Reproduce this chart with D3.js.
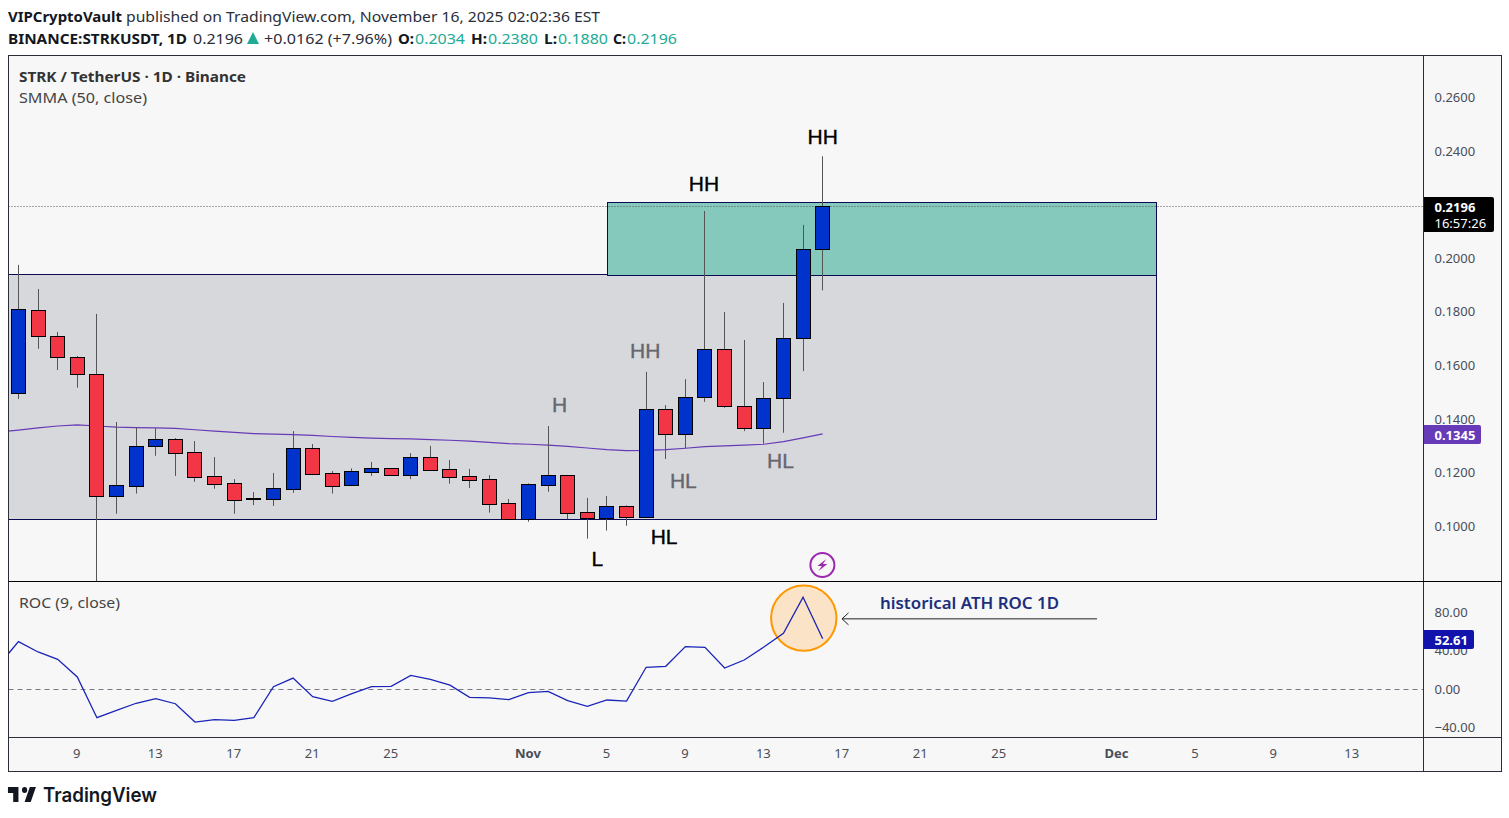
<!DOCTYPE html>
<html><head><meta charset="utf-8">
<script src="https://cdn.jsdelivr.net/npm/d3@7"></script>
<style>html,body{margin:0;padding:0;background:#fff;overflow:hidden}svg{display:block}text{font-family:"Noto Sans",sans-serif}</style>
</head><body><svg id="c" width="1509" height="818"></svg>
<script>
// First entry (Oct 5) sits left of the pane: only the indicator lines reach it.
const dates = ["2025-10-05","2025-10-06","2025-10-07","2025-10-08","2025-10-09","2025-10-10","2025-10-11","2025-10-12","2025-10-13","2025-10-14","2025-10-15","2025-10-16","2025-10-17","2025-10-18","2025-10-19","2025-10-20","2025-10-21","2025-10-22","2025-10-23","2025-10-24","2025-10-25","2025-10-26","2025-10-27","2025-10-28","2025-10-29","2025-10-30","2025-10-31","2025-11-01","2025-11-02","2025-11-03","2025-11-04","2025-11-05","2025-11-06","2025-11-07","2025-11-08","2025-11-09","2025-11-10","2025-11-11","2025-11-12","2025-11-13","2025-11-14","2025-11-15","2025-11-16"];
const opens  = [null,.1498,.1806,.1709,.1630,.1567,.1114,.1151,.1298,.1325,.1276,.1186,.1160,.1103,.1103,.1140,.1291,.1198,.1155,.1204,.1216,.1192,.1257,.1213,.1187,.1175,.1086,.1028,.1155,.1190,.1052,.1032,.1075,.1036,.1436,.1345,.1481,.1660,.1448,.1368,.1477,.1701,.2034];
const highs  = [null,.1975,.1885,.1725,.1635,.1792,.1389,.1370,.1366,.1329,.1318,.1258,.1176,.1128,.1199,.1355,.1307,.1206,.1216,.1240,.1216,.1273,.1300,.1247,.1214,.1191,.1102,.1160,.1374,.1190,.1106,.1113,.1078,.1576,.1452,.1549,.2176,.1799,.1695,.1538,.1833,.2124,.2380];
const lows   = [null,.1475,.1662,.1583,.1517,.0720,.1047,.1122,.1263,.1188,.1166,.1140,.1047,.1079,.1076,.1125,.1191,.1122,.1155,.1188,.1188,.1176,.1211,.1159,.1143,.1051,.1025,.1017,.1129,.1026,.0954,.0984,.1002,.1036,.1251,.1291,.1464,.1442,.1355,.1308,.1349,.1579,.1880];
const closes = [null,.1809,.1709,.1630,.1567,.1112,.1153,.1298,.1325,.1275,.1185,.1159,.1099,.1104,.1142,.1291,.1196,.1151,.1205,.1216,.1192,.1257,.1211,.1185,.1174,.1084,.1028,.1157,.1190,.1051,.1032,.1075,.1036,.1436,.1345,.1481,.1660,.1448,.1368,.1477,.1701,.2033,.2196];
const smma = [.1352,.1359,.1367,.1374,.1378,.1374,.1370,.1368,.1367,.1365,.1360,.1355,.1350,.1346,.1344,.1342,.1339,.1335,.1332,.1329,.1327,.1326,.1323,.1321,.1318,.1313,.1308,.1306,.1303,.1298,.1292,.1286,.1282,.1283,.1286,.1291,.1297,.1300,.1303,.1306,.1316,.1330,.1345];
const roc = [25.2,49.5,38.8,31.2,12.8,-29.5,-21.8,-14.5,-9.8,-15,-34,-31.6,-32.2,-29.5,2.7,11.7,-7.7,-12.5,-4.6,2.7,3.1,14.5,10.4,4.3,-8.3,-9,-10.8,-3.5,-2.1,-11.8,-17.7,-11.1,-12.2,22.9,23.9,44.3,43.6,22.1,30.4,43.9,58.2,95.6,52.61];
const priceTicks = [.26,.24,.20,.18,.16,.14,.12,.10];
const rocTicks = [80,40,0,-40];
const timeTicks = ["2025-10-09","2025-10-13","2025-10-17","2025-10-21","2025-10-25","2025-11-01","2025-11-05","2025-11-09","2025-11-13","2025-11-17","2025-11-21","2025-11-25","2025-12-01","2025-12-05","2025-12-09","2025-12-13"];
const zones = [
  {from:"2025-10-01",to:"2025-12-03",top:.1941,bottom:.1028,fill:"#d7d8dc"},
  {from:"2025-11-05",to:"2025-12-03",top:.2209,bottom:.1939,fill:"#84c9bc"}];
const swingLabels = [
  {t:"HH",d:"2025-11-10",p:.2277,c:"#000",dx:-1},{t:"HH",d:"2025-11-16",p:.2452,c:"#000"},
  {t:"HL",d:"2025-11-07",p:.0961,c:"#000",dx:18},{t:"L",d:"2025-11-04",p:.0879,c:"#000",dx:10},
  {t:"H",d:"2025-11-03",p:.1453,c:"#66666c",dx:-8},{t:"HH",d:"2025-11-07",p:.1657,c:"#66666c",dx:-1},
  {t:"HL",d:"2025-11-09",p:.1170,c:"#66666c",dx:-2},{t:"HL",d:"2025-11-14",p:.1245,c:"#66666c",dx:-3}];

const L=8.5,R=1501.5,AX=1423.5,T=55.5,P1=581.5,P2=737.5,B=771.5;
const pd=d3.utcParse("%Y-%m-%d");
const svg=d3.select("#c");
const x=d3.scaleUtc().domain([pd("2025-10-09"),pd("2025-12-13")]).range([77.3,1352.3]);
const y=d3.scaleLinear().domain([.26,.10]).range([97.3,526.3]);
const yr=d3.scaleLinear().domain([80,-40]).range([612.3,727.8]);
const px=d=>Math.floor(x(pd(d)))+.5;
const defs=svg.append("defs");
defs.append("clipPath").attr("id","cp").append("rect").attr("x",L).attr("y",T).attr("width",AX-L).attr("height",P1-T);
defs.append("clipPath").attr("id","cr").append("rect").attr("x",L).attr("y",P1).attr("width",AX-L).attr("height",P2-P1);

svg.append("rect").attr("x",L).attr("y",T).attr("width",R-L).attr("height",B-T).attr("fill","#f7f7f7");

const main=svg.append("g").attr("clip-path","url(#cp)");
main.selectAll(".z").data(zones).join("rect")
  .attr("x",d=>Math.round(x(pd(d.from)))+.5).attr("width",d=>Math.round(x(pd(d.to)))-Math.round(x(pd(d.from))))
  .attr("y",d=>Math.round(y(d.top))+.5).attr("height",d=>Math.round(y(d.bottom))-Math.round(y(d.top)))
  .attr("fill",d=>d.fill).attr("stroke","#0b0b55").attr("stroke-width",1);
// last price line
main.append("line").attr("x1",L).attr("x2",AX).attr("y1",Math.round(y(closes[42]))+.5).attr("y2",Math.round(y(closes[42]))+.5)
  .attr("stroke","#555").attr("stroke-dasharray","1 2");

const line=(sc)=>d3.line().x((d,i)=>x(pd(dates[i]))).y(d=>sc(d));
main.append("path").attr("d",line(y)(smma)).attr("fill","none").attr("stroke","#673ab7").attr("stroke-width",1.2);

const idx=d3.range(dates.length).filter(i=>opens[i]!=null);
const cg=main.append("g");
cg.selectAll(".w").data(idx).join("line")
  .attr("x1",i=>px(dates[i])).attr("x2",i=>px(dates[i]))
  .attr("y1",i=>y(highs[i])).attr("y2",i=>y(lows[i]))
  .attr("stroke","#555").attr("stroke-width",1);
cg.selectAll(".b").data(idx).join("rect")
  .attr("x",i=>px(dates[i])-7).attr("width",14)
  .attr("y",i=>Math.round(y(Math.max(opens[i],closes[i])))+.5)
  .attr("height",i=>Math.max(0,Math.round(y(Math.min(opens[i],closes[i])))-Math.round(y(Math.max(opens[i],closes[i])))))
  .attr("fill",i=>closes[i]>=opens[i]?"#0033cc":"#f23645").attr("stroke","#000").attr("stroke-width",1);

svg.append("g").selectAll("text").data(swingLabels).join("text")
  .attr("x",d=>x(pd(d.d))+(d.dx||0)).attr("y",d=>y(d.p)).attr("text-anchor","middle").attr("dominant-baseline","central")
  .style("font-family","'Liberation Sans',sans-serif").style("font-size","21px")
  .attr("fill",d=>d.c).attr("stroke",d=>d.c).attr("stroke-width",.35).text(d=>d.t);

// text helper: fits a run to the width measured in the picture
function tx(s,xp,yp,w,o={}){
  const t=svg.append("text").attr("x",xp).attr("y",yp).attr("dominant-baseline","central")
    .attr("fill",o.c||"#131722").style("font-size",(o.s||15)+"px").style("font-weight",o.b?700:400).text(s);
  if(o.fam)t.style("font-family",o.fam);
  if(w)t.attr("textLength",w).attr("lengthAdjust","spacingAndGlyphs");
  return t;
}
const teal="#22ab94",ink="#2a2e39";
tx("VIPCryptoVault",8,16,114,{b:1});
tx("published on TradingView.com, November 16, 2025 02:02:36 EST",126,16,474,{c:ink});
tx("BINANCE:STRKUSDT, 1D",8,38,179,{b:1});
tx("0.2196",193,38,50,{c:ink});
svg.append("path").attr("d","M247 44L253 32L259 44Z").attr("fill",teal);
tx("+0.0162 (+7.96%)",264,38,128,{c:ink});
[["O:",398,415,.2034],["H:",471,488,.2380],["L:",544,558,.1880],["C:",613,627,.2196]].forEach(a=>{
  tx(a[0],a[1],38,a[2]-a[1]-1,{b:1});
  tx(a[3].toFixed(4),a[2],38,50,{c:teal});
});
tx("STRK / TetherUS · 1D · Binance",19,76,227,{b:1,c:"#333"});
tx("SMMA (50, close)",19,97,128,{c:"#444"});
tx("ROC (9, close)",19,602,101,{c:"#444"});

// ROC pane
const rp=svg.append("g").attr("clip-path","url(#cr)");
rp.append("line").attr("x1",L).attr("x2",AX).attr("y1",Math.round(yr(0))+.5).attr("y2",Math.round(yr(0))+.5)
  .attr("stroke","#787b86").attr("stroke-dasharray","5 4");
const last=dates[41];
rp.append("circle").attr("cx",x(pd(last))+.7).attr("cy",yr(74)).attr("r",32.7)
  .attr("fill","#fbe3c7").attr("stroke","#ff9800").attr("stroke-width",2);
rp.append("path").attr("d",line(yr)(roc)).attr("fill","none").attr("stroke","#1a24b8").attr("stroke-width",1.3);

// arrow + note
const ay=yr(73.2);
svg.append("path").attr("d",`M1097 ${ay}H842M848.5 ${ay-6}L842 ${ay}L848.5 ${ay+6}`).attr("fill","none").attr("stroke","#222").attr("stroke-width",1);
tx("historical ATH ROC 1D",880,603,179,{s:16,b:1,c:"#1b2f7e"}).style("font-weight",600);

// bolt marker
const bx=x(pd("2025-11-16"))-.3;
svg.append("circle").attr("cx",bx).attr("cy",565).attr("r",12).attr("fill","none").attr("stroke","#9c27b0").attr("stroke-width",2);
svg.append("path").attr("d",`M${bx+4} 559L${bx-5} 566H${bx-.5}L${bx-4} 571L${bx+5} 564H${bx+.5}Z`).attr("fill","#9c27b0");

// axes
const styleAxis=g=>{g.select(".domain").remove();g.selectAll("text").style("font-size","13px").attr("fill","#4a4d57");};
svg.append("g").attr("transform",`translate(${AX+1},0)`)
  .call(d3.axisRight(y).tickValues(priceTicks).tickSize(0).tickPadding(10).tickFormat(d3.format(".4f"))).call(styleAxis);
svg.append("g").attr("transform",`translate(${AX+1},0)`)
  .call(d3.axisRight(yr).tickValues(rocTicks).tickSize(0).tickPadding(10).tickFormat(d=>d3.format(".2f")(d).replace("-","−"))).call(styleAxis);
svg.append("g").attr("transform",`translate(-1,${P2+11})`)
  .call(d3.axisBottom(x).tickValues(timeTicks.map(pd)).tickSize(0).tickPadding(0)
    .tickFormat(d=>d.getUTCDate()===1?d3.utcFormat("%b")(d):d.getUTCDate())).call(styleAxis)
  .selectAll("text").style("font-weight",d=>d.getUTCDate()===1?700:400);

// frame
const f=svg.append("g").attr("stroke","#2a2e39").attr("stroke-width",1).attr("fill","none");
f.append("rect").attr("x",L).attr("y",T).attr("width",R-L).attr("height",B-T);
f.append("line").attr("x1",AX).attr("x2",AX).attr("y1",T).attr("y2",B);
f.append("line").attr("x1",L).attr("x2",R).attr("y1",P1).attr("y2",P1).attr("stroke","#000");
f.append("line").attr("x1",L).attr("x2",R).attr("y1",P2).attr("y2",P2);

// value badges
function badge(lines,yc,w,h,fill){
  svg.append("path").attr("d",`M${AX+.5} ${yc-h/2}H${AX+w-2}a2 2 0 0 1 2 2V${yc+h/2-2}a2 2 0 0 1 -2 2H${AX+.5}Z`).attr("fill",fill);
  lines.forEach((s,i)=>svg.append("text").attr("x",AX+11).attr("y",yc+(i-(lines.length-1)/2)*16)
    .attr("dominant-baseline","central").attr("fill","#fff").style("font-size","13px").style("font-weight",i?400:700).text(s));
}
badge([closes[42].toFixed(4),"16:57:26"],214.5,70.5,35,"#000");
badge([smma[42].toFixed(4)],434.5,57.5,19,"#673ab7");
badge([roc[42].toFixed(2)],639.5,50.5,19,"#1212ad");

// logo
svg.append("path").attr("transform","translate(6.2,781) scale(.875,1)").attr("fill","#131722")
  .attr("d","M14 6H2v6h6v9h6V6Zm14 15h-7l6-15h7l-6 15Zm-7-9a3 3 0 1 0 0-6 3 3 0 0 0 0 6Z");
tx("TradingView",43,795,114,{s:20,c:"#131722",fam:"Inter"}).style("font-weight",600);
</script></body></html>
